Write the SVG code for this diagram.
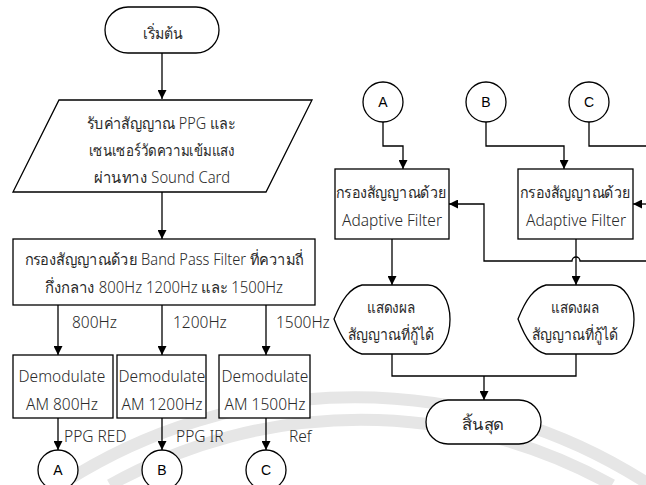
<svg xmlns="http://www.w3.org/2000/svg" width="646" height="485" viewBox="0 0 646 485">
<defs>
<marker id="arr" viewBox="0 0 10 10" refX="10" refY="5" markerWidth="9" markerHeight="9" markerUnits="userSpaceOnUse" orient="auto">
<path d="M0,0 L10,5 L0,10 Z" fill="#000"/>
</marker>
<style>
.s{fill:#fff;stroke:#000;stroke-width:1.3}
.c{fill:none;stroke:#000;stroke-width:1.3}
.t{font-family:"Noto Sans","Liberation Sans",sans-serif;font-size:15.5px;fill:#2a2a2a;text-anchor:middle;font-weight:300}
.l{font-family:"Noto Sans","Liberation Sans",sans-serif;font-size:15.5px;fill:#2a2a2a;font-weight:300}
.k{font-family:"Liberation Sans",sans-serif;font-size:14px;fill:#000;text-anchor:middle}
.wm{fill:none;stroke:#e6e6e6;stroke-width:12}
</style>
</defs>
<rect width="646" height="485" fill="#fff"/>
<g id="watermark">
<path class="wm" d="M60,485 A540,540 0 0 1 650,485"/>
<path class="wm" d="M110,485 A515,515 0 0 1 612,485"/>
</g>
<g id="connectors">
<path class="c" d="M162,53 V99" marker-end="url(#arr)"/>
<path class="c" d="M162,192 V239" marker-end="url(#arr)"/>
<path class="c" d="M58,305 V355" marker-end="url(#arr)"/>
<path class="c" d="M162,305 V355" marker-end="url(#arr)"/>
<path class="c" d="M266,305 V355" marker-end="url(#arr)"/>
<path class="c" d="M58,418 V450" marker-end="url(#arr)"/>
<path class="c" d="M162,418 V450" marker-end="url(#arr)"/>
<path class="c" d="M266,418 V450" marker-end="url(#arr)"/>
<path class="c" d="M383,122 V146 H403 V169" marker-end="url(#arr)"/>
<path class="c" d="M486,122 V146 H564 V169" marker-end="url(#arr)"/>
<path class="c" d="M589,122 V146 H646"/>
<path class="c" d="M646,261 H580 A4,4 0 0 0 572,261 H484 V204 H449" marker-end="url(#arr)"/>
<path class="c" d="M646,204 H633" marker-end="url(#arr)"/>
<path class="c" d="M392,239 V285" marker-end="url(#arr)"/>
<path class="c" d="M576,239 V285" marker-end="url(#arr)"/>
<path class="c" d="M392,354 V376 H576 V354"/>
<path class="c" d="M484,376 V400" marker-end="url(#arr)"/>
<text class="l" x="72" y="328">800Hz</text>
<text class="l" x="173" y="328">1200Hz</text>
<text class="l" x="276" y="328">1500Hz</text>
<text class="l" x="64" y="442">PPG RED</text>
<text class="l" x="176" y="442">PPG IR</text>
<text class="l" x="289" y="442">Ref</text>
</g>
<g id="start">
<rect class="s" x="105" y="7" width="114" height="46" rx="23"/>
<text class="t" x="163" y="39" textLength="40" lengthAdjust="spacingAndGlyphs">เริ่มต้น</text>
</g>
<g id="input">
<path class="s" d="M59,100 H312 L266,192 H13 Z"/>
<text class="t" x="161" y="129" textLength="148" lengthAdjust="spacingAndGlyphs">รับค่าสัญญาณ PPG และ</text>
<text class="t" x="162" y="156" textLength="146" lengthAdjust="spacingAndGlyphs">เซนเซอร์วัดความเข้มแสง</text>
<text class="t" x="162" y="183" textLength="136" lengthAdjust="spacingAndGlyphs">ผ่านทาง Sound Card</text>
</g>
<g id="bandpass">
<rect class="s" x="13" y="239" width="302" height="66"/>
<text class="t" x="164" y="265" textLength="279" lengthAdjust="spacingAndGlyphs">กรองสัญญาณด้วย Band Pass Filter ที่ความถี่</text>
<text class="t" x="164" y="293" textLength="238" lengthAdjust="spacingAndGlyphs">กึ่งกลาง 800Hz 1200Hz และ 1500Hz</text>
</g>
<g id="demod800">
<rect class="s" x="13" y="355" width="100" height="63"/>
<text class="t" x="62" y="382">Demodulate</text>
<text class="t" x="62" y="410">AM 800Hz</text>
</g>
<g id="demod1200">
<rect class="s" x="117" y="355" width="89" height="63"/>
<text class="t" x="162" y="382">Demodulate</text>
<text class="t" x="162" y="410">AM 1200Hz</text>
</g>
<g id="demod1500">
<rect class="s" x="219" y="355" width="91" height="63"/>
<text class="t" x="265" y="382">Demodulate</text>
<text class="t" x="265" y="410">AM 1500Hz</text>
</g>
<g id="connA1"><circle class="s" cx="58" cy="470" r="20"/><text class="k" x="58" y="475">A</text></g>
<g id="connB1"><circle class="s" cx="162" cy="470" r="20"/><text class="k" x="162" y="475">B</text></g>
<g id="connC1"><circle class="s" cx="266" cy="470" r="20"/><text class="k" x="266" y="475">C</text></g>
<g id="connA2"><circle class="s" cx="383" cy="102" r="20"/><text class="k" x="383" y="107">A</text></g>
<g id="connB2"><circle class="s" cx="486" cy="102" r="20"/><text class="k" x="486" y="107">B</text></g>
<g id="connC2"><circle class="s" cx="589" cy="102" r="20"/><text class="k" x="589" y="107">C</text></g>
<g id="adaptive1">
<rect class="s" x="335" y="169" width="114" height="70"/>
<text class="t" x="391" y="198" textLength="110" lengthAdjust="spacingAndGlyphs">กรองสัญญาณด้วย</text>
<text class="t" x="392" y="226">Adaptive Filter</text>
</g>
<g id="adaptive2">
<rect class="s" x="518" y="169" width="115" height="70"/>
<text class="t" x="575" y="198" textLength="110" lengthAdjust="spacingAndGlyphs">กรองสัญญาณด้วย</text>
<text class="t" x="576" y="226">Adaptive Filter</text>
</g>
<g id="display1">
<path class="s" d="M334,319 C342,299 350,288 362,285 H428 A22,34.5 0 0 1 428,354 H362 C350,351 342,340 334,319 Z"/>
<text class="t" x="391" y="313" textLength="48" lengthAdjust="spacingAndGlyphs">แสดงผล</text>
<text class="t" x="391" y="340" textLength="86" lengthAdjust="spacingAndGlyphs">สัญญาณที่กู้ได้</text>
</g>
<g id="display2">
<path class="s" d="M518,319 C526,299 534,288 546,285 H612 A22,34.5 0 0 1 612,354 H546 C534,351 526,340 518,319 Z"/>
<text class="t" x="575" y="313" textLength="48" lengthAdjust="spacingAndGlyphs">แสดงผล</text>
<text class="t" x="575" y="340" textLength="86" lengthAdjust="spacingAndGlyphs">สัญญาณที่กู้ได้</text>
</g>
<g id="end">
<rect class="s" x="426" y="400" width="115" height="44" rx="22"/>
<text class="t" x="483" y="430" textLength="42" lengthAdjust="spacingAndGlyphs">สิ้นสุด</text>
</g>
</svg>
